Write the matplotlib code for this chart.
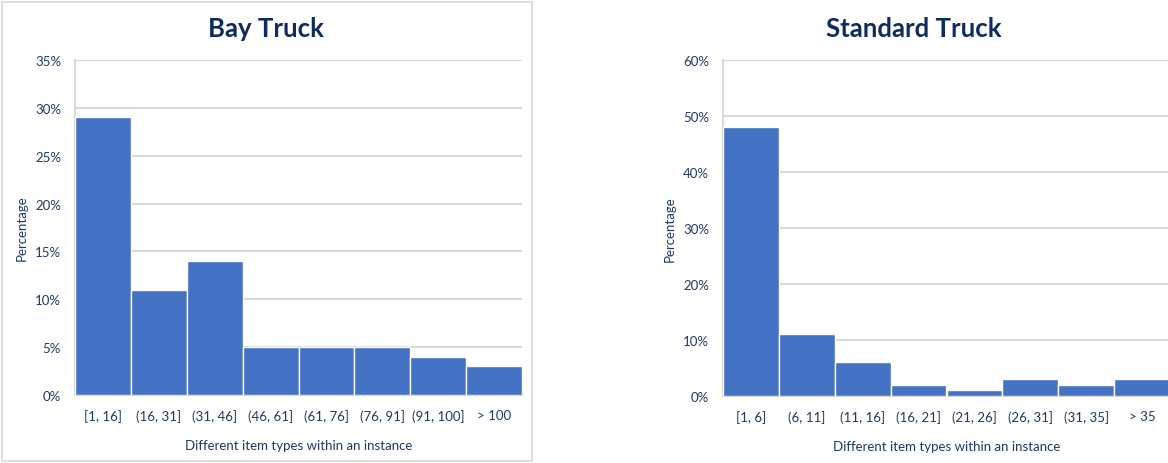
import matplotlib.pyplot as plt
import matplotlib.patches as patches
import numpy as np

plt.rcParams['font.family'] = ['Lato', 'DejaVu Sans']

bay_bins = ['[1, 16]', '(16, 31]', '(31, 46]', '(46, 61]', '(61, 76]', '(76, 91]', '(91, 100]', '> 100']
bay_pct = [29, 11, 14, 5, 5, 5, 4, 3]

std_bins = ['[1, 6]', '(6, 11]', '(11, 16]', '(16, 21]', '(21, 26]', '(26, 31]', '(31, 35]', '> 35']
std_pct = [48, 11, 6, 2, 1, 3, 2, 3]

bar_col = '#4472C4'
txt_col = '#1F3864'
title_col = '#0E2A5E'
grid_col = '#D9D9D9'

fig = plt.figure(figsize=(11.68, 4.64), dpi=100)

# gray frame round the left chart
fig.patches.append(patches.Rectangle((2 / 1168, 2 / 464), 530 / 1168, 459 / 464,
                                     transform=fig.transFigure, fill=False,
                                     edgecolor=grid_col, linewidth=1.2))


def draw(ax, bins, vals, ymax, step, title, cx):
    x = np.arange(len(bins))
    ax.bar(x, vals, width=1.0, color=bar_col, edgecolor='white', linewidth=1.0, zorder=3)
    ax.set_xlim(-0.5, len(bins) - 0.5)
    ax.set_ylim(0, ymax)
    ax.set_yticks(np.arange(0, ymax + 1, step))
    ax.set_yticklabels(['%d%%' % v for v in np.arange(0, ymax + 1, step)])
    ax.set_xticks(x)
    ax.set_xticklabels(bins)
    ax.grid(axis='y', color=grid_col, linewidth=1.5, zorder=0)
    for s in ['top', 'right']:
        ax.spines[s].set_visible(False)
    for s in ['left', 'bottom']:
        ax.spines[s].set_color(grid_col)
        ax.spines[s].set_linewidth(1.5)
    ax.tick_params(length=0, colors=txt_col, labelsize=9.5)
    ax.tick_params(axis='x', pad=10)
    ax.tick_params(axis='y', pad=10)
    ax.set_xlabel('Different item types within an instance', color=txt_col, fontsize=9.5, labelpad=12)
    ax.set_ylabel('Percentage', color=txt_col, fontsize=9.5, labelpad=5)
    fig.text(cx, 1 - 29 / 464, title, ha='center', va='center', fontsize=18.5,
             fontweight='bold', color=title_col)


ax1 = fig.add_axes([75 / 1168, 1 - 396 / 464, 447 / 1168, 335 / 464])
draw(ax1, bay_bins, bay_pct, 35, 5, 'Bay Truck', 266 / 1168)

ax2 = fig.add_axes([723 / 1168, 1 - 397 / 464, 447 / 1168, 336 / 464])
draw(ax2, std_bins, std_pct, 60, 10, 'Standard Truck', 914 / 1168)

fig.savefig('out.png', dpi=100)
